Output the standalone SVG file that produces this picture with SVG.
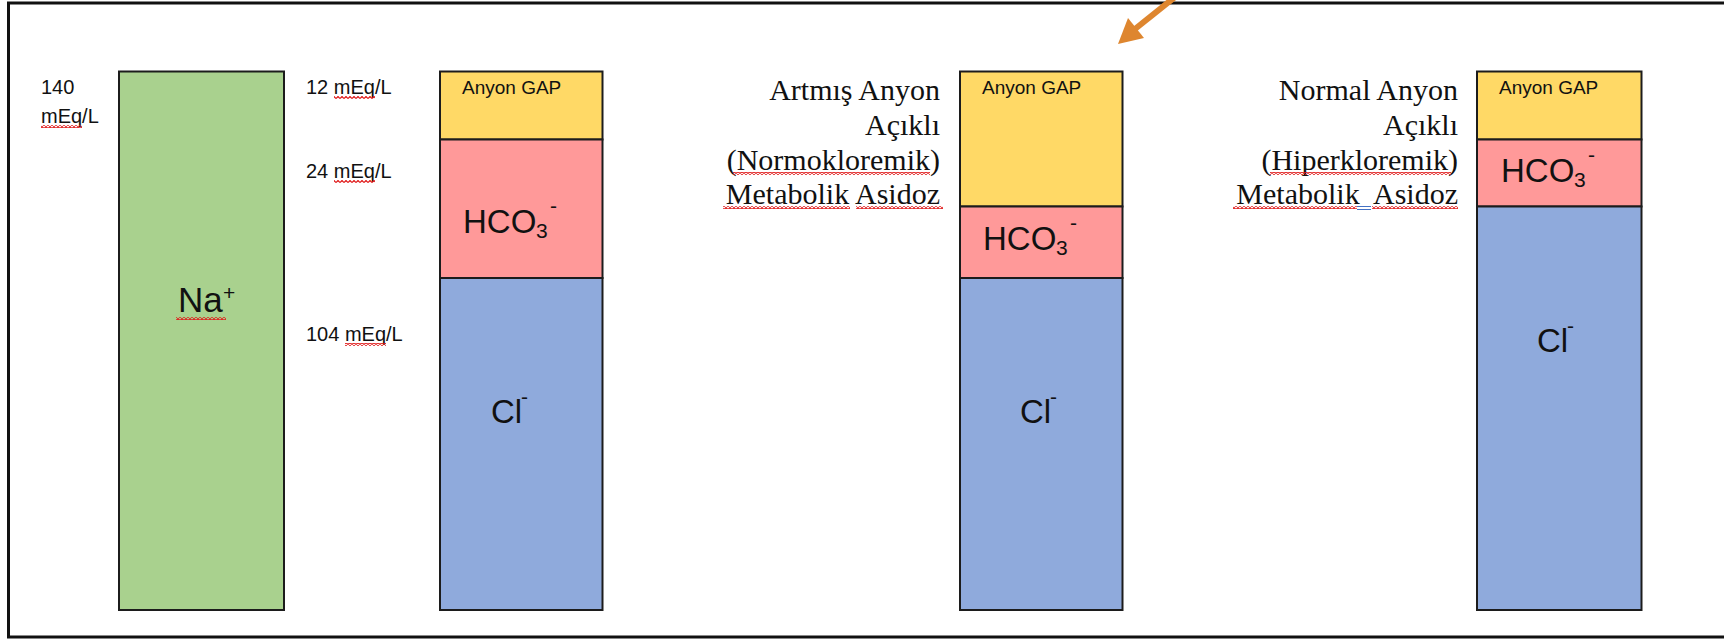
<svg xmlns="http://www.w3.org/2000/svg" width="1724" height="639" viewBox="0 0 1724 639">
<style>
.bar{stroke:#1c1c1c;stroke-width:2}
.na{fill:#A9D18E}.gap{fill:#FFD966}.hco{fill:#FF9999}.cl{fill:#8FAADC}
.s{font-family:"Liberation Sans",Arial,sans-serif;fill:#111}
.sm{font-size:20px}.lab{font-size:19px}.big{font-size:33px}.sub{font-size:21px}
.serif{font-family:"Liberation Serif","Times New Roman",serif;font-size:30px;fill:#111;text-anchor:end}
.sq{fill:url(#sqp)}
.frame{fill:none;stroke:#111;stroke-width:3}
.arrow{stroke:#DE862F;stroke-width:6;fill:none}
</style>
<defs>
<pattern id="sqp" width="4" height="3" patternUnits="userSpaceOnUse">
<path d="M0,2.5 L2,0.5 L4,2.5" fill="none" stroke="#E01818" stroke-width="1.2"/>
</pattern>
</defs>
<rect width="1724" height="639" fill="#fff"/>
<polyline class="frame" points="1730,3 8.5,3 8.5,637 1730,637"/>

<g id="labels-left">
<text class="s sm" x="41" y="94">140</text>
<text class="s sm" x="41" y="123">mEq/L</text>
<rect class="sq" x="41" y="125" width="41" height="3"/>
<text class="s sm" x="306" y="94">12 mEq/L</text>
<rect class="sq" x="334" y="96" width="41" height="3"/>
<text class="s sm" x="306" y="178">24 mEq/L</text>
<rect class="sq" x="334" y="180" width="41" height="3"/>
<text class="s sm" x="306" y="341">104 mEq/L</text>
<rect class="sq" x="345" y="343" width="41" height="3"/>
</g>

<g id="na">
<rect class="bar na" x="119" y="71.5" width="165" height="538.5"/>
<text class="s" x="178" y="312" font-size="35">Na</text>
<text class="s sub" x="223" y="300">+</text>
<rect class="sq" x="176" y="317" width="50" height="3"/>
</g>

<g id="col1">
<rect class="bar gap" x="440" y="71.5" width="162.5" height="68"/>
<rect class="bar hco" x="440" y="139.5" width="162.5" height="138.5"/>
<rect class="bar cl" x="440" y="278" width="162.5" height="332"/>
<text class="s lab" x="462" y="94">Anyon GAP</text>
<text class="s big" x="463" y="233">HCO</text>
<text class="s sub" x="536" y="238">3</text>
<text class="s sub" x="550" y="213">-</text>
<text class="s big" x="491" y="423">Cl</text>
<text class="s sub" x="521" y="404">-</text>
</g>

<g id="col2-label">
<text class="serif" x="940" y="100">Artmış Anyon</text>
<text class="serif" x="940" y="135">Açıklı</text>
<text class="serif" x="940" y="170">(Normokloremik)</text>
<text class="serif" x="940" y="204">Metabolik Asidoz</text>
<rect class="sq" x="733" y="172" width="197" height="3"/>
<rect class="sq" x="723" y="206" width="127" height="3"/>
<rect class="sq" x="856" y="206" width="87" height="3"/>
</g>

<g id="col2">
<rect class="bar gap" x="960" y="71.5" width="162.5" height="135"/>
<rect class="bar hco" x="960" y="206.5" width="162.5" height="71.5"/>
<rect class="bar cl" x="960" y="278" width="162.5" height="332"/>
<text class="s lab" x="982" y="94">Anyon GAP</text>
<text class="s big" x="983" y="250">HCO</text>
<text class="s sub" x="1056" y="255">3</text>
<text class="s sub" x="1070" y="230">-</text>
<text class="s big" x="1020" y="423">Cl</text>
<text class="s sub" x="1050" y="404">-</text>
</g>

<g id="col3-label">
<text class="serif" x="1458" y="100">Normal Anyon</text>
<text class="serif" x="1458" y="135">Açıklı</text>
<text class="serif" x="1458" y="170">(Hiperkloremik)</text>
<text class="serif" x="1458" y="204" xml:space="preserve">Metabolik  Asidoz</text>
<rect class="sq" x="1270" y="172" width="181" height="3"/>
<rect class="sq" x="1233" y="206" width="124" height="3"/>
<rect class="sq" x="1372" y="206" width="86" height="3"/>
<path d="M1357,206.5 H1371 M1357,209.5 H1371" stroke="#4472C4" stroke-width="1"/>
</g>

<g id="col3">
<rect class="bar gap" x="1477" y="71.5" width="164.5" height="68"/>
<rect class="bar hco" x="1477" y="139.5" width="164.5" height="67"/>
<rect class="bar cl" x="1477" y="206.5" width="164.5" height="403.5"/>
<text class="s lab" x="1499" y="94">Anyon GAP</text>
<text class="s big" x="1501" y="182">HCO</text>
<text class="s sub" x="1574" y="187">3</text>
<text class="s sub" x="1588" y="162">-</text>
<text class="s big" x="1537" y="352">Cl</text>
<text class="s sub" x="1567" y="333">-</text>
</g>

<g id="connectors">
<line class="arrow" x1="1175" y1="-3" x2="1135" y2="29"/>
<path d="M1118,44 L1128,18 L1144,38 z" fill="#DE862F"/>
</g>
</svg>
